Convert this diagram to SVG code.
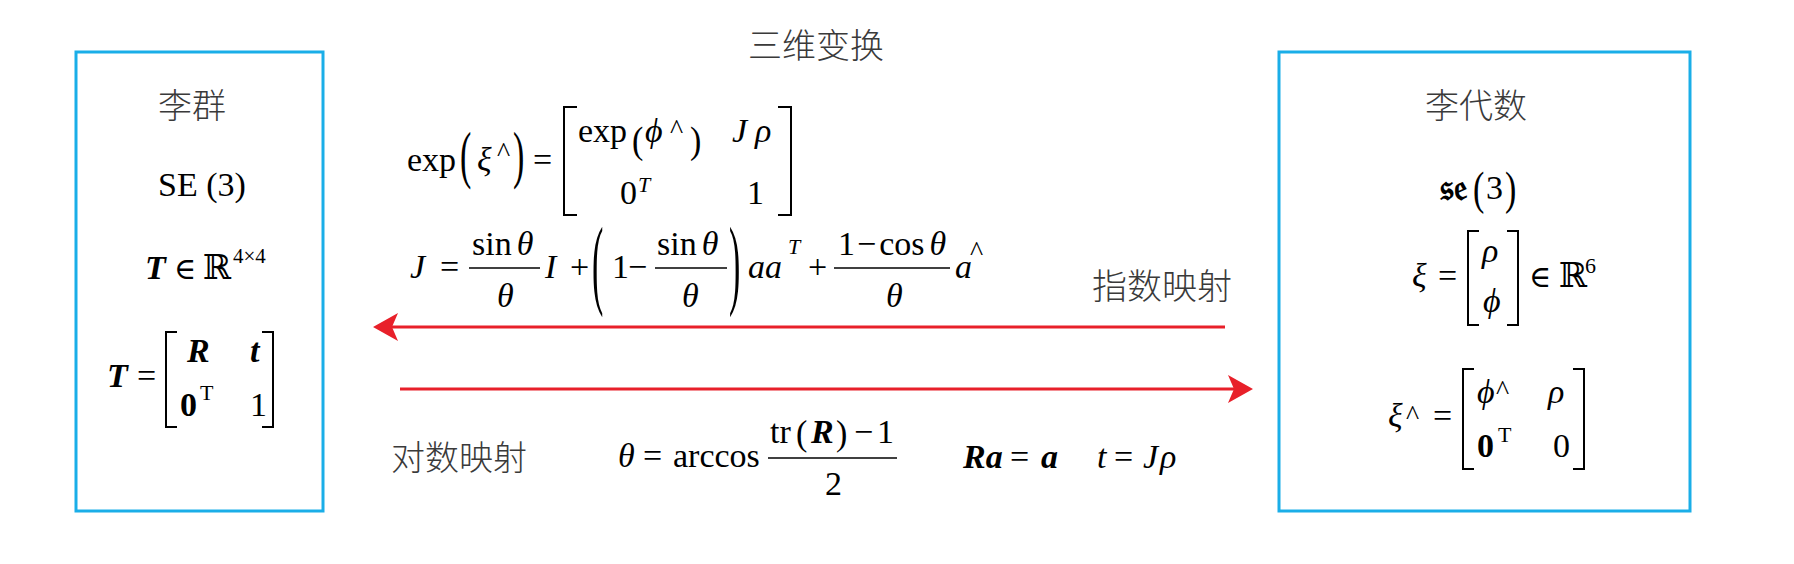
<svg xmlns="http://www.w3.org/2000/svg" width="1794" height="564" viewBox="0 0 1794 564">
<style>
.cn{font-family:"Noto Sans CJK SC",sans-serif;font-size:34px;font-weight:300;fill:#3a3a3a}
.m{font-family:"Liberation Serif","DejaVu Serif",serif;font-size:34px;fill:#000}
.i{font-style:italic}
.b{font-weight:bold}
.bi{font-weight:bold;font-style:italic}
.s{font-size:22px}
.hat{font-size:28px}
.el{font-size:30px}
.box{fill:none;stroke:#1AAEE8;stroke-width:3}
.br{fill:none;stroke:#000;stroke-width:2}
.bar{stroke:#000;stroke-width:1.6}
.arr{stroke:#E8202A;stroke-width:3;fill:none}
</style>
<defs>
<marker id="ah" viewBox="0 0 25 28" refX="18" refY="14" markerWidth="25" markerHeight="28" markerUnits="userSpaceOnUse" orient="auto">
<path d="M0,0 L25,14 L0,28 L6,14 Z" fill="#E8202A"/>
</marker>
</defs>
<rect width="1794" height="564" fill="#fff"/>

<g id="lie-group">
<rect class="box" x="76" y="52" width="247" height="459"/>
<text class="cn" x="192" y="118" text-anchor="middle">李群</text>
<text class="m" x="158" y="196">SE (3)</text>
<text class="m bi" x="145" y="279">T</text>
<text class="m el" x="174" y="279">∈</text>
<text class="m" x="203" y="279">ℝ</text>
<text class="m s" x="233" y="263" style="font-size:21px">4×4</text>
<text class="m bi" x="107" y="387">T</text>
<text class="m" x="137" y="387">=</text>
<path class="br" d="M177,332 H166 V427 H177 M262,332 H273 V427 H262"/>
<text class="m bi" x="187" y="362">R</text>
<text class="m bi" x="250" y="362">t</text>
<text class="m b" x="180" y="416">0</text>
<text class="m s" x="200" y="400">T</text>
<text class="m" x="250" y="416">1</text>
</g>

<g id="lie-algebra">
<rect class="box" x="1279" y="52" width="411" height="459"/>
<text class="cn" x="1476" y="118" text-anchor="middle">李代数</text>
<text class="m b" x="1468" y="200" text-anchor="end" style="font-family:'DejaVu Serif','DejaVu Sans',serif;font-size:36px">𝔰𝔢</text>
<text class="m" transform="translate(1473,204) scale(1,1.35)">(</text>
<text class="m" x="1486" y="199">3</text>
<text class="m" transform="translate(1505,204) scale(1,1.35)">)</text>
<text class="m i" x="1412" y="287">ξ</text>
<text class="m" x="1438" y="287">=</text>
<path class="br" d="M1479,231 H1468 V325 H1479 M1507,231 H1518 V325 H1507"/>
<text class="m i" x="1482" y="262">ρ</text>
<text class="m i" x="1483" y="312">ϕ</text>
<text class="m el" x="1529" y="287">∈</text>
<text class="m" x="1559" y="287">ℝ</text>
<text class="m s" x="1585" y="273">6</text>
<text class="m i" x="1388" y="427">ξ</text>
<text class="m hat" x="1406" y="424">^</text>
<text class="m" x="1433" y="427">=</text>
<path class="br" d="M1474,369 H1463 V469 H1474 M1573,369 H1584 V469 H1573"/>
<text class="m i" x="1477" y="403">ϕ</text>
<text class="m hat" x="1496" y="399">^</text>
<text class="m i" x="1548" y="403">ρ</text>
<text class="m b" x="1477" y="457">0</text>
<text class="m s" x="1498" y="442">T</text>
<text class="m" x="1553" y="457">0</text>
</g>

<g id="transform-title">
<text class="cn" x="816" y="58" text-anchor="middle">三维变换</text>
</g>

<g id="exp-formula">
<text class="m" x="407" y="171">exp</text>
<text class="m" transform="translate(460,176) scale(1,1.86)">(</text>
<text class="m i" x="477" y="171">ξ</text>
<text class="m hat" x="497" y="161">^</text>
<text class="m" transform="translate(513,176) scale(1,1.86)">)</text>
<text class="m" x="533" y="171">=</text>
<path class="br" d="M577,107 H564 V215 H577 M778,107 H791 V215 H778"/>
<text class="m" x="578" y="142">exp</text>
<text class="m" transform="translate(632,153) scale(1,1.12)">(</text>
<text class="m i" x="645" y="142">ϕ</text>
<text class="m hat" x="670" y="138">^</text>
<text class="m" transform="translate(690,153) scale(1,1.12)">)</text>
<text class="m i" x="732" y="142">J</text>
<text class="m i" x="755" y="142">ρ</text>
<text class="m" x="620" y="204">0</text>
<text class="m i s" x="638" y="192">T</text>
<text class="m" x="747" y="204">1</text>
</g>

<g id="jacobian-formula">
<text class="m i" x="410" y="278">J</text>
<text class="m" x="440" y="278">=</text>
<line class="bar" x1="469" y1="268" x2="540" y2="268"/>
<text class="m" x="472" y="255">sin<tspan class="i" dx="5">θ</tspan></text>
<text class="m i" x="497" y="307">θ</text>
<text class="m i" x="545" y="278">I</text>
<text class="m" x="570" y="278">+</text>
<text class="m" transform="translate(592,296) scale(1,2.9)">(</text>
<text class="m" x="612" y="278">1</text>
<text class="m" x="628" y="278">−</text>
<line class="bar" x1="655" y1="268" x2="727" y2="268"/>
<text class="m" x="657" y="255">sin<tspan class="i" dx="5">θ</tspan></text>
<text class="m i" x="682" y="307">θ</text>
<text class="m" transform="translate(729,296) scale(1,2.9)">)</text>
<text class="m i" x="748" y="278">aa</text>
<text class="m i s" x="788" y="254">T</text>
<text class="m" x="808" y="278">+</text>
<line class="bar" x1="834" y1="268" x2="950" y2="268"/>
<text class="m" x="838" y="255">1<tspan dx="2">−</tspan><tspan dx="3">cos</tspan><tspan class="i" dx="5">θ</tspan></text>
<text class="m i" x="886" y="307">θ</text>
<text class="m i" x="955" y="278">a</text>
<text class="m hat" x="970" y="260">^</text>
</g>

<g id="log-label">
<text class="cn" x="459" y="470" text-anchor="middle">对数映射</text>
</g>
<g id="exp-label">
<text class="cn" x="1162" y="299" text-anchor="middle" style="font-size:35px">指数映射</text>
</g>

<g id="log-formula">
<text class="m i" x="618" y="467">θ</text>
<text class="m" x="643" y="467">=</text>
<text class="m" x="673" y="467">arccos</text>
<line class="bar" x1="768" y1="458" x2="897" y2="458"/>
<text class="m" x="770" y="443">tr</text>
<text class="m" transform="translate(796,445) scale(1,1.05)">(</text>
<text class="m bi" x="811" y="443">R</text>
<text class="m" transform="translate(836,445) scale(1,1.05)">)</text>
<text class="m" x="854" y="443">−</text>
<text class="m" x="877" y="443">1</text>
<text class="m" x="825" y="495">2</text>
<text class="m bi" x="963" y="468">Ra</text>
<text class="m" x="1010" y="468">=</text>
<text class="m bi" x="1041" y="468">a</text>
<text class="m i" x="1097" y="468">t</text>
<text class="m" x="1114" y="468">=</text>
<text class="m i" x="1143" y="468">J</text>
<text class="m i" x="1160" y="468">ρ</text>
</g>

<g id="connectors">
<line class="arr" x1="1225" y1="327" x2="380" y2="327" marker-end="url(#ah)"/>
<line class="arr" x1="400" y1="389" x2="1246" y2="389" marker-end="url(#ah)"/>
</g>
</svg>
